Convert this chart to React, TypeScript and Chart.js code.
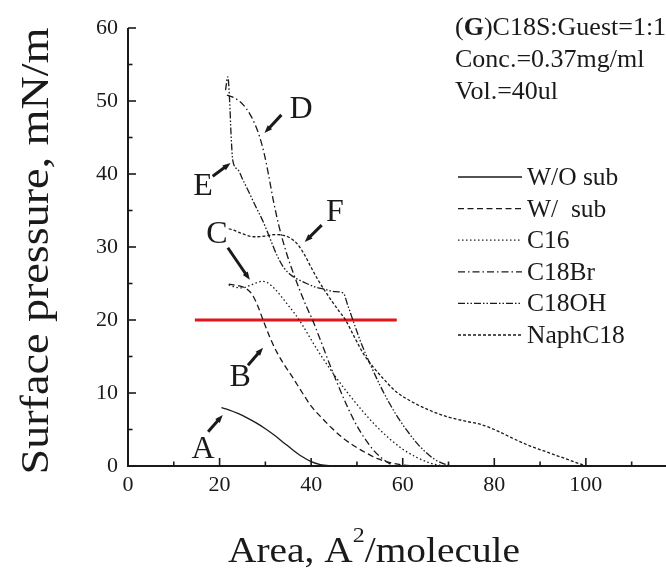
import React, { useEffect, useRef } from "react";
import { Chart, registerables } from "chart.js";
Chart.register(...registerables);

// ---------- data ----------
const woSubX = [20.4, 22, 24, 26, 28, 30, 32, 34, 36, 38, 40, 42, 44, 47];
const woSubY = [8.0, 7.7, 7.2, 6.6, 5.9, 5.1, 4.2, 3.2, 2.2, 1.3, 0.6, 0.2, 0.05, 0];

const wSubX = [22, 24, 25.5, 27, 28.3, 29.5, 31, 32.5, 34, 36, 38, 40, 42, 44.5, 47, 49.5, 52, 54.5, 57, 60, 63];
const wSubY = [24.9, 24.7, 24.4, 23.6, 22.0, 20.0, 17.6, 15.6, 14.0, 12.1, 10.1, 8.2, 6.8, 5.2, 3.8, 2.7, 1.8, 1.0, 0.5, 0.15, 0];

const c16X = [22, 23.5, 25, 26.5, 28, 29.3, 30.5, 32, 33.5, 35, 36.5, 38, 40, 42.5, 45, 48, 51, 54, 57, 60, 63, 66, 69];
const c16Y = [24.8, 24.5, 24.4, 24.7, 25.1, 25.3, 25.1, 24.3, 23.2, 22.0, 20.8, 19.4, 17.3, 14.8, 12.5, 10.0, 7.7, 5.6, 3.8, 2.3, 1.2, 0.4, 0];

const c18BrX = [21.6, 23, 24.5, 25.8, 26.9, 27.8, 28.7, 29.7, 30.7, 31.7, 33, 34.5, 36, 37.5, 39, 40.3, 42, 44, 46, 48, 50, 52, 54, 56, 58];
const c18BrY = [50.8, 50.5, 49.9, 49.0, 47.9, 46.7, 45.2, 42.9, 39.9, 36.5, 32.8, 29.4, 26.6, 24.1, 21.8, 20.0, 17.3, 14.0, 10.9, 8.0, 5.5, 3.5, 1.9, 0.8, 0];

const c18OHX = [21.3, 21.8, 22.2, 22.5, 22.9, 24, 25.1, 26.5, 28, 29.5, 31, 32.5, 34, 35.5, 37, 39, 41, 43, 45, 47, 48, 49.5, 51, 53, 55, 57, 59, 61, 63, 65, 67, 69, 71];
const c18OHY = [51.5, 53.3, 50.0, 45.5, 41.8, 40.6, 39.2, 37.4, 35.4, 33.5, 31.2, 28.9, 27.2, 26.2, 25.6, 25.0, 24.5, 24.2, 23.9, 23.7, 22.0, 19.3, 16.7, 13.8, 11.1, 8.7, 6.6, 4.8, 3.2, 1.9, 0.9, 0.3, 0];

const naphX = [22, 23.5, 25, 26.5, 28, 30, 32, 34, 35.5, 37, 38.5, 40, 41.5, 43, 44.5, 46, 47.5, 49.5, 51.5, 53.5, 56, 58.5, 62, 66, 70, 74, 77, 80, 84, 88, 92, 96, 100];
const naphY = [32.5, 32.2, 31.8, 31.5, 31.4, 31.5, 31.7, 31.6, 31.2, 30.4, 29.0, 27.2, 25.5, 24.0, 22.6, 21.3, 20.0, 17.6, 15.3, 13.6, 11.8, 10.2, 8.8, 7.6, 6.7, 6.1, 5.7, 5.0, 3.8, 2.7, 1.8, 0.9, 0];

const redX = [14.6, 58.7];
const redY = [20, 20];

const seriesNames = ["W/O sub", "W/  sub", "C16", "C18Br", "C18OH", "NaphC18"];

const xMajorTicks = [0, 20, 40, 60, 80, 100];
const xMinorTicks = [10, 30, 50, 70, 90, 110];
const yMajorTicks = [0, 10, 20, 30, 40, 50, 60];
const yMinorTicks = [5, 15, 25, 35, 45, 55];

const labelText = ["A", "B", "C", "D", "E", "F"];
const labelX = [16.4, 24.5, 19.4, 37.8, 16.4, 45.2];
const labelY = [2.2, 12.1, 31.7, 48.8, 38.3, 34.7];
const arrowX0 = [17.5, 26.2, 21.8, 33.5, 18.5, 42.3];
const arrowY0 = [4.7, 13.8, 29.9, 48.1, 39.7, 33.0];
const arrowX1 = [20.7, 29.5, 26.6, 29.8, 22.4, 38.6];
const arrowY1 = [7.0, 16.2, 25.5, 45.6, 41.5, 30.7];

const infoLines = ["Conc.=0.37mg/ml", "Vol.=40ul"];

const SERIF = "'Liberation Serif', 'Times New Roman', serif";
const INK = "#1a1a1a";

const zip = (xs: number[], ys: number[]) => xs.map((x, i) => ({ x, y: ys[i] }));

const dashes: number[][] = [[], [6, 3.5], [1.5, 2.5], [7, 3, 1.5, 3], [7, 2, 1.5, 2, 1.5, 2], [3, 2]];

const overlay = {
  id: "overlay",
  beforeDatasetsDraw(chart: any) {
    const ctx = chart.ctx;
    const xs = chart.scales.x;
    const ys = chart.scales.y;
    const x0 = xs.getPixelForValue(0);
    const y0 = ys.getPixelForValue(0);
    const yTop = ys.getPixelForValue(60);
    ctx.save();
    ctx.strokeStyle = INK;
    ctx.fillStyle = INK;
    ctx.lineWidth = 2;
    ctx.beginPath();
    ctx.moveTo(x0, yTop);
    ctx.lineTo(x0, y0);
    ctx.lineTo(chart.width, y0);
    ctx.stroke();
    ctx.lineWidth = 1.6;
    yMajorTicks.forEach((v) => {
      const p = ys.getPixelForValue(v);
      ctx.beginPath();
      ctx.moveTo(x0, p);
      ctx.lineTo(x0 + 8, p);
      ctx.stroke();
    });
    yMinorTicks.forEach((v) => {
      const p = ys.getPixelForValue(v);
      ctx.beginPath();
      ctx.moveTo(x0, p);
      ctx.lineTo(x0 + 4.5, p);
      ctx.stroke();
    });
    xMajorTicks.forEach((v) => {
      const p = xs.getPixelForValue(v);
      ctx.beginPath();
      ctx.moveTo(p, y0);
      ctx.lineTo(p, y0 - 8);
      ctx.stroke();
    });
    xMinorTicks.forEach((v) => {
      const p = xs.getPixelForValue(v);
      ctx.beginPath();
      ctx.moveTo(p, y0);
      ctx.lineTo(p, y0 - 4.5);
      ctx.stroke();
    });
    ctx.font = `22px ${SERIF}`;
    ctx.textAlign = "right";
    ctx.textBaseline = "middle";
    yMajorTicks.forEach((v) => {
      ctx.fillText(String(v), x0 - 10, ys.getPixelForValue(v));
    });
    ctx.textAlign = "center";
    ctx.textBaseline = "top";
    xMajorTicks.forEach((v) => {
      ctx.fillText(String(v), xs.getPixelForValue(v), y0 + 8);
    });
    // y title
    ctx.save();
    ctx.font = `40px ${SERIF}`;
    const yt = "Surface pressure, mN/m";
    const ytw = ctx.measureText(yt).width;
    ctx.translate(37, 251);
    ctx.rotate(-Math.PI / 2);
    ctx.scale(447 / ytw, 1);
    ctx.textAlign = "center";
    ctx.textBaseline = "middle";
    ctx.fillText(yt, 0, 0);
    ctx.restore();
    // x title
    ctx.save();
    const big = `36px ${SERIF}`;
    const small = `22px ${SERIF}`;
    ctx.font = big;
    const p1 = "Area, A";
    const p3 = "/molecule";
    const w1 = ctx.measureText(p1).width;
    const w3 = ctx.measureText(p3).width;
    ctx.font = small;
    const w2 = ctx.measureText("2").width;
    const total = w1 + w2 + w3;
    const sx = 292 / total;
    ctx.translate(374 - 146, 562);
    ctx.scale(sx, 1);
    ctx.textAlign = "left";
    ctx.textBaseline = "alphabetic";
    ctx.font = big;
    ctx.fillText(p1, 0, 0);
    ctx.font = small;
    ctx.fillText("2", w1, -20);
    ctx.font = big;
    ctx.fillText(p3, w1 + w2, 0);
    ctx.restore();
    ctx.restore();
  },
  afterDatasetsDraw(chart: any) {
    const ctx = chart.ctx;
    const xs = chart.scales.x;
    const ys = chart.scales.y;
    ctx.save();
    ctx.fillStyle = INK;
    ctx.strokeStyle = INK;
    ctx.font = `32px ${SERIF}`;
    ctx.textAlign = "center";
    ctx.textBaseline = "middle";
    labelText.forEach((t, i) => {
      ctx.fillText(t, xs.getPixelForValue(labelX[i]), ys.getPixelForValue(labelY[i]));
    });
    labelText.forEach((_, i) => {
      const ax = xs.getPixelForValue(arrowX0[i]);
      const ay = ys.getPixelForValue(arrowY0[i]);
      const bx = xs.getPixelForValue(arrowX1[i]);
      const by = ys.getPixelForValue(arrowY1[i]);
      const ang = Math.atan2(by - ay, bx - ax);
      const c = Math.cos(ang);
      const s = Math.sin(ang);
      ctx.lineWidth = 3;
      ctx.lineCap = "butt";
      ctx.beginPath();
      ctx.moveTo(ax, ay);
      ctx.lineTo(bx - 5 * c, by - 5 * s);
      ctx.stroke();
      ctx.beginPath();
      ctx.moveTo(bx, by);
      ctx.lineTo(bx - 8 * c - 3 * s, by - 8 * s + 3 * c);
      ctx.lineTo(bx - 8 * c + 3 * s, by - 8 * s - 3 * c);
      ctx.closePath();
      ctx.fill();
    });
    // info text
    const infoFont = `26px ${SERIF}`;
    ctx.font = infoFont;
    ctx.textAlign = "left";
    ctx.textBaseline = "alphabetic";
    let x = 455;
    ctx.fillText("(", x, 35);
    x += ctx.measureText("(").width;
    ctx.font = `bold 26px ${SERIF}`;
    ctx.fillText("G", x, 35);
    x += ctx.measureText("G").width;
    ctx.font = infoFont;
    ctx.fillText(")C18S:Guest=1:1", x, 35);
    infoLines.forEach((t, i) => ctx.fillText(t, 455, 67 + i * 32));
    // legend
    ctx.font = `25.5px ${SERIF}`;
    chart.data.datasets.slice(0, seriesNames.length).forEach((ds: any, i: number) => {
      const base = 185 + i * 31.6;
      ctx.save();
      ctx.strokeStyle = INK;
      ctx.lineWidth = 1.3;
      ctx.setLineDash(ds.borderDash || []);
      ctx.beginPath();
      ctx.moveTo(458, base - 8);
      ctx.lineTo(522, base - 8);
      ctx.stroke();
      ctx.restore();
      ctx.fillText(ds.label, 527, base);
    });
    ctx.restore();
  },
};

export default function App() {
  const ref = useRef<HTMLCanvasElement | null>(null);
  useEffect(() => {
    document.body.style.margin = "0";
    const canvas = ref.current;
    if (!canvas) return;
    const sets = [
      [woSubX, woSubY],
      [wSubX, wSubY],
      [c16X, c16Y],
      [c18BrX, c18BrY],
      [c18OHX, c18OHY],
      [naphX, naphY],
    ];
    const datasets: any[] = sets.map((s, i) => ({
      label: seriesNames[i],
      data: zip(s[0], s[1]),
      borderColor: INK,
      borderWidth: 1.3,
      borderDash: dashes[i],
      pointRadius: 0,
      fill: false,
      cubicInterpolationMode: "monotone",
    }));
    datasets.push({
      label: "red",
      data: zip(redX, redY),
      borderColor: "#e4141b",
      borderWidth: 3,
      pointRadius: 0,
      fill: false,
    });
    const chart = new Chart(canvas, {
      type: "line",
      data: { datasets },
      options: {
        responsive: false,
        animation: false,
        layout: { padding: { left: 128, top: 28, right: 0, bottom: 106 } },
        plugins: { legend: { display: false }, tooltip: { enabled: false } },
        scales: {
          x: { type: "linear", min: 0, max: 117.5, display: false },
          y: { type: "linear", min: 0, max: 60, display: false },
        },
      },
      plugins: [overlay],
    } as any);
    return () => chart.destroy();
  }, []);
  return (
    <div style={{ width: 666, height: 572, background: "#fff" }}>
      <canvas ref={ref} width={666} height={572} style={{ display: "block" }} />
    </div>
  );
}
